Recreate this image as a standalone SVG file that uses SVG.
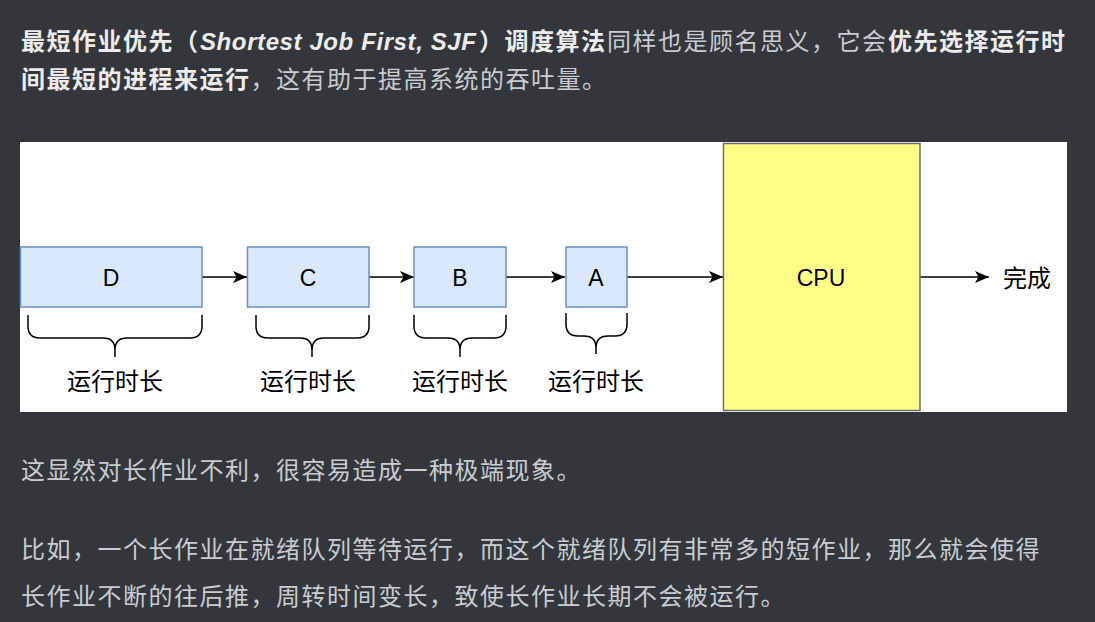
<svg xmlns="http://www.w3.org/2000/svg" width="1095" height="622" viewBox="0 0 1095 622">
<style>
.t{font-family:"Liberation Sans","Noto Sans CJK SC",sans-serif;font-size:24px;letter-spacing:1.5px;fill:#c9ccd0}
.b{font-weight:bold;fill:#ececec}
.lat{font-family:"Liberation Sans",sans-serif;font-style:italic;font-weight:bold;letter-spacing:0.6px;fill:#ececec}
.box{fill:#dae8fc;stroke:#6c8ebf;stroke-width:1.5}
.lbl{font-family:"Liberation Sans","Noto Sans CJK SC",sans-serif;font-size:23px;fill:#000;text-anchor:middle}
.cjk{font-family:"Noto Sans CJK SC",sans-serif;font-size:24px;fill:#000}
.edge{stroke:#000;stroke-width:1.5;fill:none}
.brace{stroke:#000;stroke-width:1.5;fill:none}
</style>
<defs>
<marker id="arr" markerUnits="userSpaceOnUse" markerWidth="16" markerHeight="14" refX="14" refY="7" orient="auto">
<path d="M0,1 L14,7 L0,13 L3.5,7 z" fill="#000"/>
</marker>
</defs>
<rect width="1095" height="622" fill="#33373c"/>
<g id="intro">
<text class="t b" x="21" y="50">最短作业优先（</text>
<text class="t lat" x="200" y="50">Shortest Job First, SJF</text>
<text class="t b" x="479" y="50">）调度算法</text>
<text class="t" x="607" y="50">同样也是顾名思义，它会</text>
<text class="t b" x="888" y="50">优先选择运行时</text>
<text class="t b" x="21" y="88">间最短的进程来运行</text>
<text class="t" x="250.5" y="88">，这有助于提高系统的吞吐量。</text>
</g>
<rect x="20" y="142" width="1047" height="270" fill="#ffffff"/>
<g id="connectors">
<line class="edge" x1="202" y1="277" x2="247" y2="277" marker-end="url(#arr)"/>
<line class="edge" x1="369" y1="277" x2="414" y2="277" marker-end="url(#arr)"/>
<line class="edge" x1="506" y1="277" x2="565" y2="277" marker-end="url(#arr)"/>
<line class="edge" x1="627" y1="277" x2="723" y2="277" marker-end="url(#arr)"/>
<line class="edge" x1="920" y1="277" x2="989" y2="277" marker-end="url(#arr)"/>
</g>
<g id="nodeD">
<rect class="box" x="20.5" y="247" width="181.5" height="60"/>
<text class="lbl" x="111" y="286">D</text>
</g>
<g id="nodeC">
<rect class="box" x="247.5" y="247" width="121.5" height="60"/>
<text class="lbl" x="308" y="286">C</text>
</g>
<g id="nodeB">
<rect class="box" x="414" y="247" width="92" height="60"/>
<text class="lbl" x="460" y="286">B</text>
</g>
<g id="nodeA">
<rect class="box" x="566" y="247" width="61" height="60"/>
<text class="lbl" x="596" y="286">A</text>
</g>
<g id="cpu">
<rect x="723.5" y="143.5" width="196.5" height="267" fill="#ffff88" stroke="#6b6b6b" stroke-width="1.5"/>
<text class="lbl" x="821" y="286">CPU</text>
</g>
<g id="done">
<text class="cjk" x="1003" y="287">完成</text>
</g>
<g id="braceD">
<path class="brace" d="M28,315 L28,326 Q28,338 40,338 L103,338 Q115,338 115,350 L115,357 M115,350 Q115,338 127,338 L190,338 Q202,338 202,326 L202,315"/>
<text class="cjk" x="115" y="390" text-anchor="middle">运行时长</text>
</g>
<g id="braceC">
<path class="brace" d="M256,315 L256,326 Q256,338 268,338 L300,338 Q312,338 312,350 L312,357 M312,350 Q312,338 324,338 L357,338 Q369,338 369,326 L369,315"/>
<text class="cjk" x="308" y="390" text-anchor="middle">运行时长</text>
</g>
<g id="braceB">
<path class="brace" d="M414,315 L414,326 Q414,338 426,338 L448,338 Q460,338 460,350 L460,357 M460,350 Q460,338 472,338 L494,338 Q506,338 506,326 L506,315"/>
<text class="cjk" x="460" y="390" text-anchor="middle">运行时长</text>
</g>
<g id="braceA">
<path class="brace" d="M566,313 L566,324 Q566,336 578,336 L584,336 Q596,336 596,348 L596,354 M596,348 Q596,336 608,336 L615,336 Q627,336 627,324 L627,313"/>
<text class="cjk" x="596" y="390" text-anchor="middle">运行时长</text>
</g>
<g id="outro">
<text class="t" x="21" y="479">这显然对长作业不利，很容易造成一种极端现象。</text>
<text class="t" x="21" y="558">比如，一个长作业在就绪队列等待运行，而这个就绪队列有非常多的短作业，那么就会使得</text>
<text class="t" x="21" y="605">长作业不断的往后推，周转时间变长，致使长作业长期不会被运行。</text>
</g>
</svg>
